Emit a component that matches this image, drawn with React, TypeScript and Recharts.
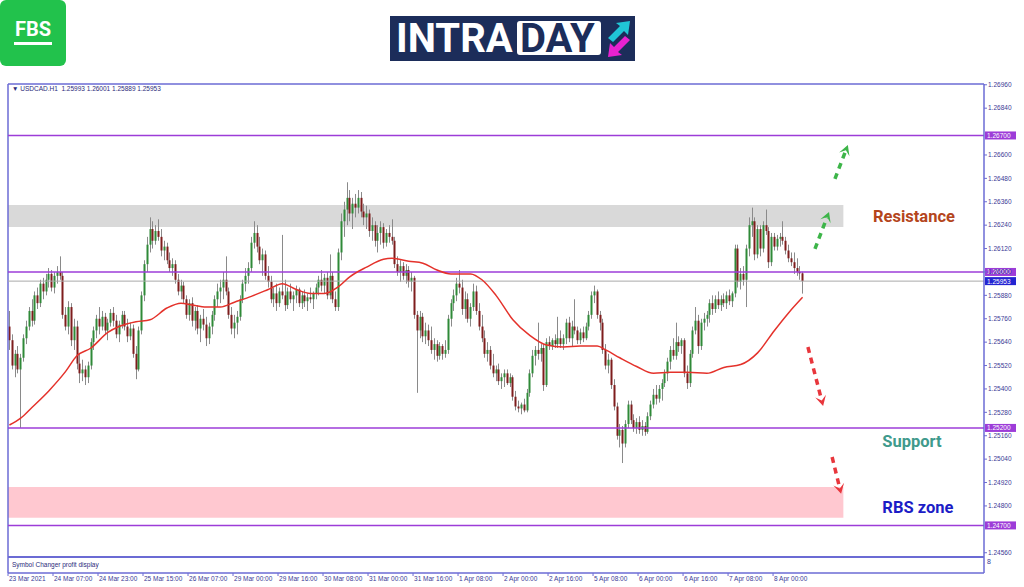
import { ComposedChart, Bar, Line, XAxis, YAxis, ReferenceLine, ReferenceArea, ReferenceDot } from 'recharts'

// prices are kept as pips above 1.24000
const P = (v: number) => 1.24 + v / 10000

// USDCAD H1 candles: [open, high, low, close]
const candles: [number, number, number, number][] = [
  [172, 180, 160, 165], [165, 168, 150, 152], [152, 160, 146, 158], [158, 162, 148, 150],
  [150, 158, 120, 156], [156, 168, 154, 166], [166, 175, 163, 172], [172, 182, 170, 180],
  [180, 186, 172, 175], [175, 190, 173, 188], [188, 192, 181, 184], [184, 196, 182, 194],
  [194, 197, 186, 190], [190, 199, 188, 196], [196, 202, 192, 199], [199, 201, 190, 192],
  [192, 200, 189, 198], [198, 203, 194, 200], [200, 208, 196, 198], [198, 200, 176, 178],
  [178, 182, 170, 172], [172, 185, 168, 182], [182, 184, 162, 165], [165, 176, 160, 172],
  [172, 175, 150, 153], [153, 158, 143, 148], [148, 155, 144, 150], [150, 152, 142, 146],
  [146, 154, 143, 152], [152, 166, 150, 164], [164, 172, 160, 170], [170, 178, 166, 176],
  [176, 182, 168, 172], [172, 180, 170, 177], [177, 179, 168, 170], [170, 176, 165, 174],
  [174, 181, 172, 179], [179, 182, 172, 175], [175, 178, 166, 168], [168, 175, 164, 173],
  [173, 180, 171, 178], [178, 180, 170, 172], [172, 176, 164, 167], [167, 174, 165, 171],
  [171, 173, 156, 158], [158, 162, 145, 150], [150, 172, 149, 170], [170, 190, 168, 188],
  [188, 206, 185, 204], [204, 218, 200, 214], [214, 228, 210, 222], [222, 226, 212, 216],
  [216, 224, 214, 221], [221, 227, 216, 218], [218, 222, 208, 211], [211, 216, 206, 213],
  [213, 215, 204, 206], [206, 210, 200, 202], [202, 207, 198, 204], [204, 206, 194, 196],
  [196, 199, 188, 190], [190, 196, 186, 193], [193, 195, 184, 186], [186, 188, 176, 178],
  [178, 186, 175, 184], [184, 187, 172, 175], [175, 182, 170, 180], [180, 183, 168, 171],
  [171, 178, 164, 176], [176, 181, 170, 173], [173, 177, 162, 166], [166, 174, 163, 172],
  [172, 180, 168, 178], [178, 188, 175, 186], [186, 194, 182, 190], [190, 196, 184, 192],
  [192, 200, 186, 196], [196, 208, 188, 190], [190, 192, 176, 178], [178, 182, 168, 171],
  [171, 178, 166, 174], [174, 180, 168, 177], [177, 188, 175, 186], [186, 196, 184, 194],
  [194, 202, 190, 198], [198, 205, 194, 202], [202, 218, 200, 215], [215, 226, 212, 220],
  [220, 224, 210, 213], [213, 218, 204, 206], [206, 212, 198, 209], [209, 211, 196, 198],
  [198, 203, 192, 195], [195, 198, 184, 186], [186, 192, 182, 189], [189, 194, 180, 184],
  [184, 192, 182, 190], [190, 219, 186, 188], [188, 196, 180, 183], [183, 192, 181, 190],
  [190, 194, 184, 186], [186, 190, 180, 188], [188, 193, 184, 191], [191, 192, 182, 184],
  [184, 190, 181, 188], [188, 191, 182, 185], [185, 189, 180, 187], [187, 192, 184, 186],
  [186, 190, 181, 189], [189, 194, 186, 192], [192, 198, 188, 196], [196, 201, 190, 193],
  [193, 199, 189, 197], [197, 200, 186, 188], [188, 209, 186, 198], [198, 200, 184, 186],
  [186, 190, 180, 182], [182, 212, 180, 210], [210, 230, 206, 226], [226, 236, 218, 232],
  [232, 246, 224, 238], [238, 242, 226, 230], [230, 238, 222, 235], [235, 240, 228, 233],
  [233, 242, 230, 238], [238, 241, 228, 231], [231, 235, 224, 228], [228, 234, 222, 230],
  [230, 232, 218, 221], [221, 228, 216, 224], [224, 226, 213, 216], [216, 224, 210, 220],
  [220, 226, 214, 223], [223, 225, 212, 215], [215, 222, 213, 220], [220, 224, 215, 218],
  [218, 227, 214, 216], [216, 218, 202, 204], [204, 208, 198, 200], [200, 206, 195, 203],
  [203, 205, 196, 198], [198, 204, 194, 201], [201, 203, 192, 195], [195, 200, 190, 197],
  [197, 198, 176, 178], [178, 180, 138, 170], [170, 180, 166, 177], [177, 179, 164, 167],
  [167, 174, 163, 170], [170, 173, 162, 165], [165, 172, 158, 160], [160, 166, 155, 163],
  [163, 165, 154, 157], [157, 164, 155, 162], [162, 163, 155, 158], [158, 165, 156, 160],
  [160, 178, 158, 176], [176, 186, 172, 184], [184, 191, 180, 188], [188, 197, 185, 194],
  [194, 201, 189, 192], [192, 196, 178, 181], [181, 190, 176, 186], [186, 189, 174, 176],
  [176, 184, 172, 182], [182, 194, 180, 190], [190, 193, 178, 180], [180, 184, 170, 172],
  [172, 178, 164, 166], [166, 170, 156, 158], [158, 164, 154, 160], [160, 162, 150, 152],
  [152, 158, 146, 148], [148, 152, 144, 150], [150, 153, 142, 144], [144, 148, 140, 146],
  [146, 150, 141, 148], [148, 150, 142, 143], [143, 148, 141, 146], [146, 147, 134, 136],
  [136, 139, 129, 131], [131, 134, 128, 130], [130, 133, 127, 132], [132, 135, 128, 129],
  [129, 140, 128, 138], [138, 150, 136, 148], [148, 160, 146, 157], [157, 162, 152, 160],
  [160, 174, 155, 158], [158, 163, 154, 161], [161, 163, 139, 142], [142, 166, 141, 164],
  [164, 167, 160, 162], [162, 166, 160, 165], [165, 168, 161, 163], [163, 177, 161, 166],
  [166, 170, 161, 163], [163, 168, 160, 166], [166, 176, 163, 174], [174, 177, 164, 166],
  [166, 175, 162, 172], [172, 186, 168, 170], [170, 172, 163, 165], [165, 171, 163, 169],
  [169, 172, 164, 166], [166, 174, 165, 172], [172, 180, 170, 178], [178, 190, 176, 188],
  [188, 193, 184, 190], [190, 191, 176, 178], [178, 180, 170, 174], [174, 176, 158, 160],
  [160, 163, 150, 152], [152, 158, 148, 155], [155, 156, 140, 142], [142, 145, 129, 131],
  [131, 133, 114, 116], [116, 122, 110, 119], [119, 121, 102, 112], [112, 124, 110, 122],
  [122, 134, 120, 132], [132, 134, 122, 124], [124, 127, 118, 120], [120, 125, 117, 123],
  [123, 126, 117, 119], [119, 124, 116, 121], [121, 123, 116, 118], [118, 128, 117, 126],
  [126, 134, 124, 132], [132, 140, 130, 137], [137, 142, 132, 135], [135, 142, 133, 140],
  [140, 145, 134, 143], [143, 150, 141, 148], [148, 156, 144, 154], [154, 162, 150, 160],
  [160, 166, 155, 157], [157, 174, 155, 164], [164, 167, 159, 162], [162, 166, 158, 165],
  [165, 166, 146, 148], [148, 152, 140, 143], [143, 160, 141, 158], [158, 172, 156, 170],
  [170, 182, 168, 175], [175, 178, 158, 162], [162, 176, 160, 174], [174, 179, 170, 176],
  [176, 180, 172, 178], [178, 186, 174, 184], [184, 188, 178, 181], [181, 188, 179, 186],
  [186, 190, 181, 183], [183, 188, 180, 186], [186, 189, 182, 184], [184, 190, 181, 188],
  [188, 191, 183, 185], [185, 190, 182, 189], [189, 214, 187, 212], [212, 214, 192, 195],
  [195, 202, 191, 199], [199, 203, 193, 196], [196, 214, 182, 212], [212, 228, 208, 224],
  [224, 233, 218, 226], [226, 228, 206, 209], [209, 224, 207, 222], [222, 224, 208, 212],
  [212, 226, 210, 224], [224, 232, 219, 221], [221, 223, 202, 205], [205, 220, 203, 218],
  [218, 220, 211, 213], [213, 219, 211, 217], [217, 220, 213, 218], [218, 226, 214, 216],
  [216, 218, 209, 211], [211, 214, 205, 207], [207, 210, 203, 205], [205, 210, 199, 202],
  [202, 207, 198, 200], [200, 203, 196, 199.3], [199.3, 200.1, 188.9, 195.3],
]

// moving average: [bar index, pips]
const maPoints: [number, number][] = [
  [0, 121.5], [4, 125], [8, 130.5], [14, 139], [20, 149], [24, 157], [29, 161], [35, 169],
  [39, 172], [45, 174.5], [50, 175.5], [56, 181.5], [61, 184], [65, 183], [70, 182], [75, 182],
  [80, 184.5], [86, 187.5], [92, 191], [97, 194], [102, 191], [107, 189], [112, 189], [117, 192.5],
  [121, 197.5], [127, 202.5], [133, 206.5], [136, 207], [142, 205.5], [147, 204.5], [152, 201],
  [157, 199], [164, 199], [168, 196], [173, 188], [179, 175.5], [185, 167.5], [191, 162.5],
  [197, 161.5], [203, 162], [209, 162], [212, 160], [217, 156], [223, 151.5], [229, 148],
  [235, 148.5], [241, 148.5], [248, 148], [254, 151], [260, 152.5], [266, 158.5], [272, 170],
  [277, 179], [282, 187],
]

const xLabels = [
  '23 Mar 2021', '24 Mar 07:00', '24 Mar 23:00', '25 Mar 15:00', '26 Mar 07:00', '29 Mar 00:00',
  '29 Mar 16:00', '30 Mar 08:00', '31 Mar 00:00', '31 Mar 16:00', '1 Apr 08:00', '2 Apr 00:00',
  '2 Apr 16:00', '5 Apr 08:00', '6 Apr 00:00', '6 Apr 16:00', '7 Apr 08:00', '8 Apr 00:00',
]
const xTicks = xLabels.map((_, k) => k * 16)

// 1.26720 and 1.24680 sit under the level tags, so they are left out
const yTicks = [
  1.2456, 1.248, 1.2492, 1.2504, 1.2516, 1.2528, 1.254, 1.2552, 1.2564, 1.2576,
  1.2588, 1.26, 1.2612, 1.2624, 1.2636, 1.2648, 1.266, 1.2684, 1.2696,
]

const levels = [1.267, 1.26, 1.252, 1.247]
const lastPrice = 1.25953
const resistanceZone = [223.1, 234.4]
const rbsZone = [73.9, 89.7]

const FRAME = '#6b6bd4'
const LEVEL = '#9d3cd8'
const AXIS_TEXT = '#3a3a96'
const SMALL_FONT = '"Liberation Sans", Arial, sans-serif'

const rows = candles.map(([o, h, l, c], i) => ({
  i, o: P(o), h: P(h), l: P(l), c: P(c), range: [P(l), P(h)], ma: undefined as number | undefined,
}))
maPoints.forEach(([i, v]) => { rows[i].ma = P(v) })

// arrows and texts drawn over the chart, in bar index / pips
const arrows = [
  { from: [286.4, 211.8], to: [291.4, 230.8], color: '#3db549' },
  { from: [293.5, 247.7], to: [298.1, 265.1], color: '#3db549' },
  { from: [283.9, 161.5], to: [289.3, 131.3], color: '#e8363c' },
  { from: [292.5, 105.1], to: [295.7, 86.2], color: '#e8363c' },
]
const notes = [
  { text: 'Resistance', at: [321.6, 228.7], color: '#b4451c' },
  { text: 'Support', at: [320.9, 113.3], color: '#3f9a8c' },
  { text: 'RBS zone', at: [323, 79.5], color: '#1c1cc6' },
]

function Candle(props: any) {
  const { x, y, width, height, payload } = props
  if (x == null || y == null) return null
  const top = Math.min(y, y + height)
  const bottom = Math.max(y, y + height)
  const { o, h, l, c } = payload
  const cx = Math.round(x + width / 2) + 0.5
  const toY = (v: number) => (h === l ? top : top + ((h - v) / (h - l)) * (bottom - top))
  const bodyTop = toY(Math.max(o, c))
  const bodyBottom = toY(Math.min(o, c))
  return (
    <g>
      <line x1={cx} x2={cx} y1={top} y2={bottom} stroke="#8a8a8a" strokeWidth={1} />
      <rect
        x={cx - 1} y={bodyTop} width={2} height={Math.max(1, bodyBottom - bodyTop)}
        fill={c >= o ? '#2f8a38' : '#7e1d1d'}
      />
    </g>
  )
}

function Arrow({ x1, y1, x2, y2, color }: any) {
  const len = Math.hypot(x2 - x1, y2 - y1)
  const ux = (x2 - x1) / len
  const uy = (y2 - y1) / len
  const hl = 10
  const hw = 5.5
  const bx = x2 - ux * hl
  const by = y2 - uy * hl
  const pts = [
    [x2, y2],
    [bx - uy * hw, by + ux * hw],
    [x2 - ux * hl * 0.55, y2 - uy * hl * 0.55],
    [bx + uy * hw, by - ux * hw],
  ].map(p => p.join(',')).join(' ')
  return (
    <g>
      <line
        x1={x1} y1={y1} x2={x2 - ux * hl * 0.6} y2={y2 - uy * hl * 0.6}
        stroke={color} strokeWidth={3.5} strokeDasharray="6 5"
      />
      <polygon points={pts} fill={color} />
    </g>
  )
}

function Tag({ viewBox, text, bg }: any) {
  const { x, y, width } = viewBox
  return (
    <g>
      <rect x={x + width + 1} y={y - 4} width={31} height={8} fill={bg} />
      <text x={x + width + 3} y={y + 2.5} fontSize={6.5} fill="#fff" fontFamily={SMALL_FONT}>{text}</text>
    </g>
  )
}

function XTick({ x, y, payload }: any) {
  const label = xLabels[payload.value / 16]
  if (!label) return null
  const tx = x - 1.4
  return (
    <g>
      <line x1={tx} x2={tx} y1={y} y2={y + 3} stroke={FRAME} />
      <text x={tx + 1} y={y + 8} fontSize={6.5} fill={AXIS_TEXT} fontFamily={SMALL_FONT}>{label}</text>
    </g>
  )
}

export default function App() {
  const yTop = 1.26964
  const ySub = 1.245381
  return (
    <div style={{ position: 'absolute', left: 0, top: 0, width: 1024, height: 587, background: '#fff', overflow: 'hidden' }}>
      <ComposedChart width={1024} height={587} data={rows} margin={{ top: 84, right: 0, left: 8, bottom: 0 }}>
        <XAxis
          dataKey="i" type="number" domain={[-0.5, 346.5]} allowDataOverflow
          ticks={xTicks} interval={0} tick={<XTick />} tickLine={false} tickSize={0} tickMargin={0} height={14}
          axisLine={{ stroke: FRAME, strokeWidth: 1.5 }}
        />
        <YAxis
          orientation="right" domain={[1.24456, yTop]} allowDataOverflow ticks={yTicks} interval={0}
          width={40} tickSize={3} tickMargin={1} tickFormatter={(v: number) => v.toFixed(5)}
          tick={{ fontSize: 6.5, fill: AXIS_TEXT, fontFamily: SMALL_FONT }}
          tickLine={{ stroke: FRAME }} axisLine={{ stroke: FRAME, strokeWidth: 1.5 }}
        />
        <ReferenceArea x1={-0.5} x2={296.5} y1={P(resistanceZone[0])} y2={P(resistanceZone[1])} fill="#d9d9d9" fillOpacity={1} />
        <ReferenceArea x1={-0.5} x2={296.5} y1={P(rbsZone[0])} y2={P(rbsZone[1])} fill="#ffc8d0" fillOpacity={1} />
        <ReferenceLine x={-0.5} stroke={FRAME} strokeWidth={1.5} />
        <ReferenceLine y={yTop} stroke={FRAME} strokeWidth={1.5} />
        <ReferenceLine y={ySub} stroke={FRAME} strokeWidth={2} />
        <ReferenceLine y={lastPrice} stroke="#a9a9a9" strokeWidth={1} label={<Tag text="1.25953" bg="#2424d2" />} />
        {levels.map(v => (
          <ReferenceLine key={v} y={v} stroke={LEVEL} strokeWidth={1.6} label={<Tag text={v.toFixed(5)} bg={LEVEL} />} />
        ))}
        <Bar dataKey="range" barSize={2} isAnimationActive={false} shape={(p: any) => <Candle {...p} />} />
        <Line
          dataKey="ma" type="monotone" stroke="#e4322b" strokeWidth={1.5} dot={false}
          connectNulls isAnimationActive={false}
        />
        {arrows.map((a, k) => (
          <ReferenceLine
            key={k}
            segment={[{ x: a.from[0], y: P(a.from[1]) }, { x: a.to[0], y: P(a.to[1]) }]}
            shape={(p: any) => <Arrow {...p} color={a.color} />}
          />
        ))}
        {notes.map(n => (
          <ReferenceDot
            key={n.text} x={n.at[0]} y={P(n.at[1])} r={0} stroke="none" fill="none"
            label={{ value: n.text, position: 'center', fill: n.color, fontSize: 16.5, fontWeight: 700, fontFamily: 'Roboto, sans-serif' }}
          />
        ))}
      </ComposedChart>

      <div style={{ position: 'absolute', left: 12, top: 85, fontSize: 6.5, color: '#2b2b7a', fontFamily: SMALL_FONT, whiteSpace: 'pre' }}>
        {'▼ USDCAD.H1  1.25993 1.26001 1.25889 1.25953'}
      </div>
      <div style={{ position: 'absolute', left: 12, top: 561, fontSize: 6.5, color: '#2b2b7a', fontFamily: SMALL_FONT }}>
        Symbol Changer profit display
      </div>
      <div style={{ position: 'absolute', left: 987, top: 558, fontSize: 7, color: AXIS_TEXT, fontFamily: SMALL_FONT }}>8</div>

      {/* FBS logo */}
      <div style={{ position: 'absolute', left: 0, top: 0, width: 66, height: 66, borderRadius: 6, background: '#22c24c' }}>
        <div style={{ position: 'absolute', left: 0, top: 18, width: 66, textAlign: 'center', color: '#fff', fontFamily: 'Roboto, sans-serif', fontWeight: 700, fontSize: 20, lineHeight: '22px' }}>FBS</div>
        <div style={{ position: 'absolute', left: 14, top: 42, width: 38, height: 3, background: '#fff' }} />
      </div>

      {/* INTRADAY logo */}
      <div style={{ position: 'absolute', left: 390, top: 16, width: 245, height: 45, background: '#1c2d5a', fontFamily: 'Roboto, sans-serif', fontWeight: 700 }}>
        <div style={{ position: 'absolute', left: 6, top: 2, color: '#fff', fontSize: 40, lineHeight: '41px' }}>INTRA</div>
        <div style={{ position: 'absolute', left: 127, top: 5, width: 84, height: 34, background: '#fff', borderRadius: 3 }}>
          <div style={{ position: 'absolute', left: 3, top: -3, color: '#1c2d5a', fontSize: 40, lineHeight: '41px' }}>DAY</div>
        </div>
        <svg style={{ position: 'absolute', left: 214, top: 2 }} width={30} height={42}>
          <polygon points="4,20 16,8 12,5 26,3 24,17 20,13 9,24" fill="#20c6d6" />
          <polygon points="26,22 14,34 18,37 4,39 6,25 10,29 21,18" fill="#e822d0" />
        </svg>
      </div>
    </div>
  )
}
